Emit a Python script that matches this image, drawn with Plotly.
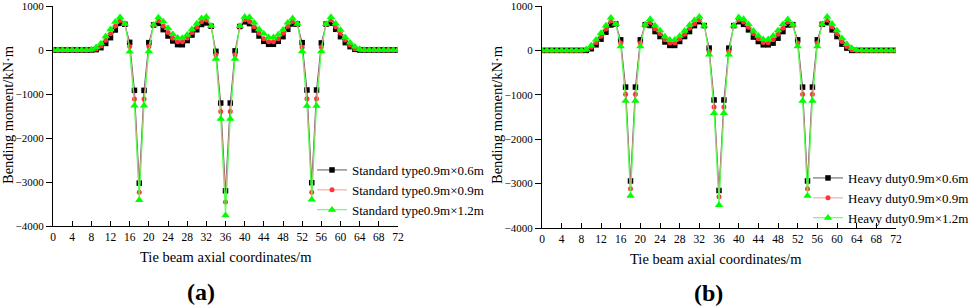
import plotly.graph_objects as go

# ---------------- data ----------------
x_coord = list(range(0, 73))  # tie beam axial coordinate (m), 1 m spacing

x_ticks = [0, 4, 8, 12, 16, 20, 24, 28, 32, 36, 40, 44, 48, 52, 56, 60, 64, 68, 72]
y_ticks = [-4000, -3000, -2000, -1000, 0, 1000]

names_a = ["Standard type0.9m×0.6m", "Standard type0.9m×0.9m", "Standard type0.9m×1.2m"]
names_b = ["Heavy duty0.9m×0.6m", "Heavy duty0.9m×0.9m", "Heavy duty0.9m×1.2m"]

a_06 = [0, 0, 0, 0, 0, 0, 0, 0, 0,
        8, 53, 150, 280, 455, 606, 585, 174, -917, -3025,
        -917, 167, 570, 606, 462, 318, 205, 122, 120, 215,
        340, 460, 580, 615, 540, -30, -1205, -3200, -1205, -20,
        535, 640, 600, 455, 318, 197, 129, 129, 197, 303,
        470, 591, 590, 167, -909, -3015, -909, 160, 590, 606,
        470, 303, 167, 76, 15,
        0, 0, 0, 0, 0, 0, 0, 0, 0]
a_09 = [0, 0, 0, 0, 0, 0, 0, 0, 0,
        25, 90, 220, 370, 545, 670, 590, 80, -1114, -3235,
        -1114, 80, 572, 670, 545, 400, 265, 190, 185, 270,
        400, 520, 640, 680, 545, -110, -1400, -3455, -1400, -110,
        540, 690, 650, 530, 380, 258, 190, 190, 258, 380,
        540, 650, 592, 60, -1110, -3235, -1110, 70, 592, 680,
        530, 380, 227, 114, 30,
        5, 0, 0, 0, 0, 0, 0, 0, 0]
a_12 = [0, 0, 0, 0, 0, 0, 0, 0, 10,
        60, 150, 310, 470, 640, 745, 595, -38, -1265, -3410,
        -1265, -30, 575, 740, 650, 500, 360, 280, 275, 345,
        470, 600, 720, 755, 550, -200, -1568, -3758, -1568, -200,
        545, 755, 750, 620, 470, 370, 288, 288, 350, 460,
        620, 720, 595, -30, -1270, -3400, -1270, -30, 595, 750,
        600, 455, 288, 167, 76,
        20, 0, 0, 0, 0, 0, 0, 0, 0]

b_06 = [0, 0, 0, 0, 0, 0, 0, 0, 0,
        0, 37, 126, 253, 409, 573, 595, 238, -826, -2940,
        -826, 238, 580, 560, 424, 312, 190, 112, 112, 201,
        312, 424, 558, 647, 558, 52, -1116, -3154, -1116, 52,
        558, 647, 587, 462, 300, 200, 126, 126, 164, 275,
        424, 573, 580, 238, -826, -2940, -826, 238, 587, 625,
        462, 312, 141, 52, 0,
        0, 0, 0, 0, 0, 0, 0, 0, 0]
b_09 = [0, 0, 0, 0, 0, 0, 0, 0, 0,
        10, 70, 180, 320, 480, 662, 595, 164, -990, -3118,
        -990, 164, 580, 632, 490, 380, 238, 164, 164, 260,
        365, 500, 600, 684, 558, -22, -1272, -3296, -1272, -22,
        558, 684, 640, 520, 380, 260, 180, 175, 238, 365,
        500, 640, 580, 164, -990, -3118, -990, 164, 587, 684,
        533, 380, 201, 89, 15,
        0, 0, 0, 0, 0, 0, 0, 0, 0]
b_12 = [0, 0, 0, 0, 0, 0, 0, 0, 0,
        25, 110, 240, 390, 560, 736, 595, 90, -1138, -3275,
        -1138, 90, 580, 707, 560, 450, 312, 238, 238, 327,
        440, 573, 680, 759, 558, -97, -1413, -3482, -1413, -97,
        558, 745, 707, 590, 440, 330, 250, 250, 330, 450,
        590, 700, 580, 90, -1138, -3275, -1138, 90, 587, 759,
        600, 450, 275, 141, 52,
        10, 0, 0, 0, 0, 0, 0, 0, 0]

# ---------------- styling ----------------
FONT = "Liberation Serif, Times New Roman, serif"
W, H = 969, 306
styles = [
    dict(symbol="square", size=5.5, color="#000000", line="#5a5a5a"),
    dict(symbol="circle", size=5, color="#ff3535", line="#ff9a9a"),
    dict(symbol="triangle-up", size=7.5, color="#00ff00", line="#4cff4c"),
]

fig = go.Figure()

for (names, series, xa, ya, leg) in [
    (names_a, [a_06, a_09, a_12], "x", "y", "legend"),
    (names_b, [b_06, b_09, b_12], "x2", "y2", "legend2"),
]:
    for name, vals, st in zip(names, series, styles):
        fig.add_trace(go.Scatter(
            x=x_coord, y=vals, name=name, mode="lines+markers",
            xaxis=xa, yaxis=ya, legend=leg,
            line=dict(color=st["line"], width=1),
            marker=dict(symbol=st["symbol"], size=st["size"], color=st["color"],
                        line=dict(width=0)),
        ))

def xaxis(dom, anchor):
    return dict(domain=dom, anchor=anchor, range=[0, 72], tickvals=x_ticks,
                ticks="inside", ticklen=5, tickwidth=1, tickcolor="black",
                showline=True, linecolor="black", linewidth=1,
                showgrid=False, zeroline=False, ticklabeloverflow="allow",
                tickfont=dict(family=FONT, size=11.5, color="black"))

def yaxis(dom, anchor):
    return dict(domain=dom, anchor=anchor, range=[-4000, 1000], tickvals=y_ticks,
                ticks="outside", ticklen=6, tickwidth=1, tickcolor="black",
                showline=True, linecolor="black", linewidth=1,
                showgrid=False, zeroline=False, ticklabeloverflow="allow",
                tickfont=dict(family=FONT, size=11, color="black"))

leg_common = dict(xanchor="left", yanchor="middle", bgcolor="rgba(0,0,0,0)",
                  borderwidth=0, font=dict(family=FONT, size=13, color="black"),
                  itemwidth=30, tracegroupgap=0)

fig.update_layout(
    width=W, height=H,
    margin=dict(l=0, r=0, t=0, b=0, autoexpand=False),
    paper_bgcolor="white", plot_bgcolor="white",
    font=dict(family=FONT, color="black"),
    xaxis=xaxis([53 / W, 398 / W], "y"),
    yaxis=yaxis([(H - 226) / H, (H - 6) / H], "x"),
    xaxis2=xaxis([542 / W, 896 / W], "y2"),
    yaxis2=yaxis([(H - 228) / H, (H - 6) / H], "x2"),
    legend=dict(x=312 / W, y=(H - 190) / H, **leg_common),
    legend2=dict(x=808 / W, y=(H - 198) / H, **leg_common),
)

ann = []
for cx, cy, txt in [(226, 257, "Tie beam axial coordinates/m"),
                    (716, 259, "Tie beam axial coordinates/m")]:
    ann.append(dict(x=cx / W, y=(H - cy) / H, xref="paper", yref="paper",
                    text=txt, showarrow=False, xanchor="center", yanchor="middle",
                    font=dict(family=FONT, size=14.5, color="black")))
for cx, cy in [(8, 115), (497, 115)]:
    ann.append(dict(x=cx / W, y=(H - cy) / H, xref="paper", yref="paper",
                    text="Bending moment/kN·m", textangle=-90, showarrow=False,
                    xanchor="center", yanchor="middle",
                    font=dict(family=FONT, size=14.5, color="black")))
for cx, cy, txt in [(201, 292, "<b>(a)</b>"), (708, 293, "<b>(b)</b>")]:
    ann.append(dict(x=cx / W, y=(H - cy) / H, xref="paper", yref="paper",
                    text=txt, showarrow=False, xanchor="center", yanchor="middle",
                    font=dict(family=FONT, size=24, color="black")))
fig.update_layout(annotations=ann)

fig.write_html("out.html",
               config={"displayModeBar": False},
               post_script="document.body.style.margin='0';document.body.style.padding='0';")
